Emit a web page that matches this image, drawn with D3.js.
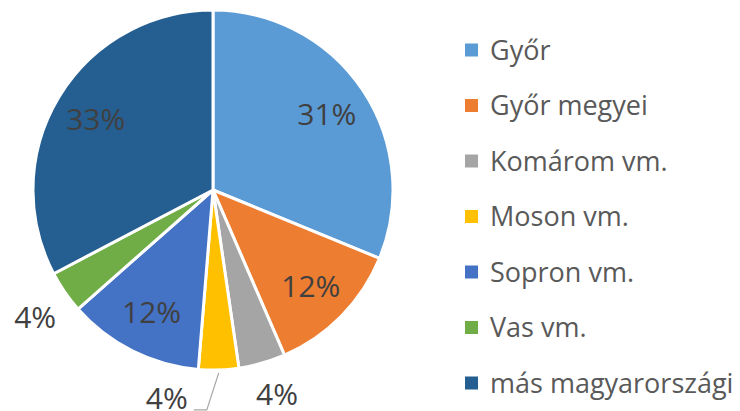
<!DOCTYPE html>
<html>
<head>
<meta charset="utf-8">
<script src="https://cdn.jsdelivr.net/npm/d3@7"></script>
<style>
  body { margin: 0; background: #fff; }
  text { font-family: "Open Sans", Lato, sans-serif; }
</style>
</head>
<body>
<svg width="740" height="411"></svg>
<script>
// chart data
const categories = ['Győr', 'Győr megyei', 'Komárom vm.', 'Moson vm.', 'Sopron vm.', 'Vas vm.', 'más magyarországi']
const shares = [31.2, 12.3, 4.2, 3.6, 12.2, 3.8, 32.7]
const labels = ['31%', '12%', '4%', '4%', '12%', '4%', '33%']
const colors = ['#5B9BD5', '#ED7D31', '#A5A5A5', '#FFC000', '#4472C4', '#70AD47', '#255E91']

const svg = d3.select('svg'),
  width = +svg.attr('width'),
  height = +svg.attr('height')

const cx = 213, cy = 190, radius = 180

const pie = d3.pie().sort(null).value(d => d)
const arcs = pie(shares)

const arc = d3.arc().innerRadius(0).outerRadius(radius)
const innerLabelArc = d3.arc().innerRadius(137).outerRadius(137)
const outerLabelArc = d3.arc().innerRadius(216).outerRadius(216)

const g = svg.append('g').attr('transform', `translate(${cx},${cy})`)

// slices
g.selectAll('path.slice')
  .data(arcs)
  .join('path')
  .attr('class', 'slice')
  .attr('d', arc)
  .attr('fill', (d, i) => colors[i])
  .attr('stroke', '#fff')
  .attr('stroke-width', 3)
  .attr('stroke-linejoin', 'round')

// small slices get their label outside, nudged apart so they don't collide
const outside = d => d.endAngle - d.startAngle < 0.4
const nudge = { 2: [5, -4], 3: [-53, -8], 5: [0, 5] }

const labelPos = (d, i) => {
  if (!outside(d)) return innerLabelArc.centroid(d)
  const [x, y] = outerLabelArc.centroid(d)
  const n = nudge[i] || [0, 0]
  return [x + n[0], y + n[1]]
}

g.selectAll('text.lbl')
  .data(arcs)
  .join('text')
  .attr('class', 'lbl')
  .attr('transform', (d, i) => `translate(${labelPos(d, i)})`)
  .attr('text-anchor', 'middle')
  .attr('dy', '0.36em')
  .attr('fill', '#404040')
  .style('font-size', '30px')
  .text((d, i) => labels[i])

// leader line for the Moson label (it is pushed away from its slice)
{
  const d = arcs[3]
  const a = (d.startAngle + d.endAngle) / 2
  const start = [Math.sin(a) * (radius + 3), -Math.cos(a) * (radius + 3)]
  const [lx, ly] = labelPos(d, 3)
  const corner = [lx + 40, ly + 12]
  g.append('polyline')
    .attr('points', [start, corner, [lx + 27, ly + 12]].map(p => p.join(',')).join(' '))
    .attr('fill', 'none')
    .attr('stroke', '#A6A6A6')
    .attr('stroke-width', 1.2)
}

// legend
const legend = svg.append('g').attr('transform', 'translate(465,50)')
const item = legend.selectAll('g')
  .data(categories)
  .join('g')
  .attr('transform', (d, i) => `translate(0,${i * 55.5})`)

item.append('rect')
  .attr('x', 0)
  .attr('y', -6.5)
  .attr('width', 13)
  .attr('height', 13)
  .attr('fill', (d, i) => colors[i])

item.append('text')
  .attr('x', 25)
  .attr('dy', '0.36em')
  .attr('fill', '#595959')
  .style('font-size', '27px')
  .text(d => d)
</script>
</body>
</html>
